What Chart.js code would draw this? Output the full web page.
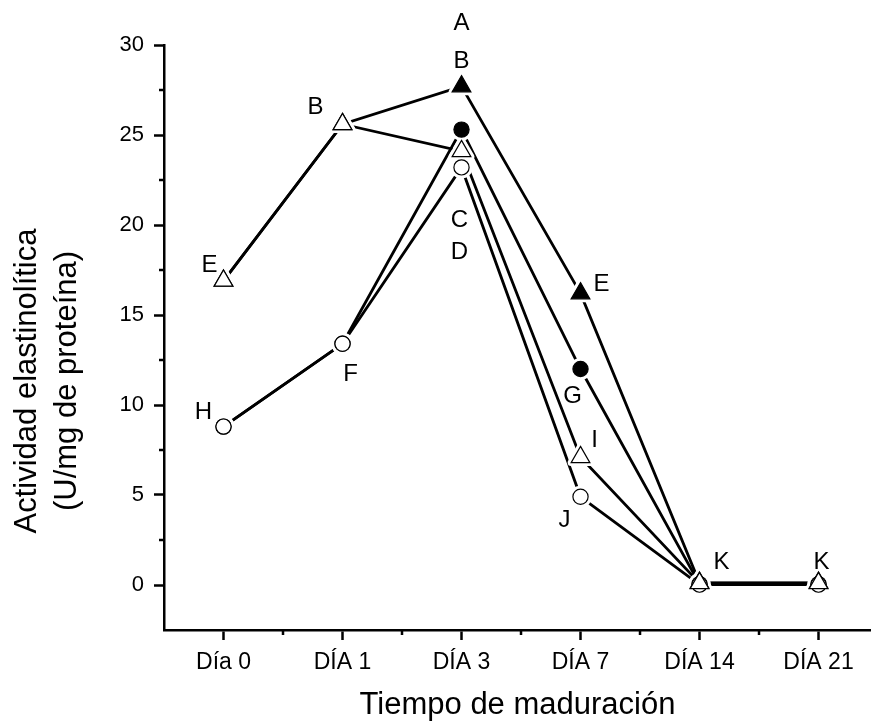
<!DOCTYPE html>
<html>
<head>
<meta charset="utf-8">
<script src="https://cdn.jsdelivr.net/npm/chart.js@4.4.1/dist/chart.umd.min.js"></script>
<style>
  html, body { margin: 0; padding: 0; background: #fff; overflow: hidden; }
  #wrap { width: 871px; height: 725px; }
</style>
</head>
<body>
<div id="wrap"><canvas id="chart" width="871" height="725"></canvas></div>
<script>
// Sampling days
const categories = ['Día 0', 'DÍA 1', 'DÍA 3', 'DÍA 7', 'DÍA 14', 'DÍA 21'];

// Elastinolytic activity (U/mg protein) per treatment
const filledTriangle = [16.9, 25.6, 27.7, 16.2, 0.12, 0.12];
const filledCircle   = [8.8, 13.4, 25.3, 12.0, 0.05, 0.05];
const openCircle     = [8.8, 13.4, 23.2, 4.9, 0.02, 0.02];
const openTriangle   = [16.9, 25.6, 24.1, 7.1, 0.1, 0.1];

// Labelled y ticks
const yTickLabels = [0, 5, 10, 15, 20, 25, 30];

// Axis titles
const xTitle = 'Tiempo de maduración';
const yTitleLines = ['Actividad elastinolítica', '(U/mg de proteína)'];

// Significance letters: dataset index, point index, pixel offset of the letter
const letters = [
  { text: 'A', ds: 0, i: 2, dx: 0,   dy: -65 },
  { text: 'B', ds: 0, i: 2, dx: 0,   dy: -27 },
  { text: 'B', ds: 3, i: 1, dx: -27, dy: -19 },
  { text: 'E', ds: 3, i: 0, dx: -14, dy: -17 },
  { text: 'H', ds: 2, i: 0, dx: -20, dy: -16 },
  { text: 'F', ds: 2, i: 1, dx: 8,   dy: 29 },
  { text: 'C', ds: 2, i: 2, dx: -2,  dy: 51 },
  { text: 'D', ds: 2, i: 2, dx: -2,  dy: 83 },
  { text: 'E', ds: 0, i: 3, dx: 21,  dy: -11 },
  { text: 'G', ds: 1, i: 3, dx: -8,  dy: 25 },
  { text: 'I', ds: 3, i: 3, dx: 14,  dy: -19 },
  { text: 'J', ds: 2, i: 3, dx: -16, dy: 22 },
  { text: 'K', ds: 3, i: 4, dx: 22,  dy: -23 },
  { text: 'K', ds: 3, i: 5, dx: 3,   dy: -23 }
];

const FONT = "'Liberation Sans', Arial, Helvetica, sans-serif";
Chart.defaults.font.family = FONT;
Chart.defaults.color = '#000';

const toPoints = arr => arr.map((v, i) => ({ x: i, y: v }));

function series(values, style, filled) {
  const tri = style === 'triangle';
  return {
    data: toPoints(values),
    borderColor: '#000',
    borderWidth: 2.8,
    tension: 0,
    fill: false,
    pointStyle: style,
    pointRadius: tri ? 10.8 : 7.6,
    pointBackgroundColor: filled ? '#000' : '#fff',
    pointBorderColor: '#000',
    pointBorderWidth: 1.2,
    pointHoverRadius: tri ? 10.8 : 7.6
  };
}

// White gap around every marker, then the markers on top (all series)
const markerGap = {
  id: 'markerGap',
  afterDatasetsDraw(chart) {
    const ctx = chart.ctx;
    const gap = 3.5;
    ctx.save();
    ctx.fillStyle = '#fff';
    ctx.strokeStyle = '#fff';
    ctx.lineJoin = 'round';
    chart.data.datasets.forEach((ds, di) => {
      chart.getDatasetMeta(di).data.forEach(pt => {
        const r = pt.options.radius;
        ctx.beginPath();
        if (pt.options.pointStyle === 'triangle') {
          for (let k = 0; k < 3; k++) {
            const a = k * 2 * Math.PI / 3;
            const px = pt.x + Math.sin(a) * r, py = pt.y - Math.cos(a) * r;
            if (k === 0) ctx.moveTo(px, py); else ctx.lineTo(px, py);
          }
          ctx.closePath();
          ctx.lineWidth = gap * 2;
          ctx.fill();
          ctx.stroke();
        } else {
          ctx.arc(pt.x, pt.y, r + gap, 0, Math.PI * 2);
          ctx.fill();
        }
      });
    });
    ctx.restore();
    chart.data.datasets.forEach((ds, di) => {
      chart.getDatasetMeta(di).data.forEach(pt => pt.draw(ctx, chart.chartArea));
    });
  }
};

// Short minor ticks between the major ones
const minorTicks = {
  id: 'minorTicks',
  afterDraw(chart) {
    const ctx = chart.ctx;
    const xs = chart.scales.x, ys = chart.scales.y;
    ctx.save();
    ctx.strokeStyle = '#000';
    ctx.lineWidth = 2.5;
    ctx.beginPath();
    for (let v = 0.5; v <= xs.max; v += 1) {
      const px = xs.getPixelForValue(v);
      ctx.moveTo(px, xs.top);
      ctx.lineTo(px, xs.top + 5);
    }
    for (let v = 2.5; v < ys.max; v += 5) {
      const py = ys.getPixelForValue(v);
      ctx.moveTo(ys.right, py);
      ctx.lineTo(ys.right - 5, py);
    }
    ctx.stroke();
    ctx.restore();
  }
};

// Two-line rotated y-axis title, centred a little below the axis middle
const yAxisTitle = {
  id: 'yAxisTitle',
  afterDraw(chart) {
    const ctx = chart.ctx;
    ctx.save();
    ctx.font = '31px ' + FONT;
    ctx.fillStyle = '#000';
    ctx.textAlign = 'center';
    ctx.textBaseline = 'middle';
    ctx.translate(0, 381);
    ctx.rotate(-Math.PI / 2);
    yTitleLines.forEach((line, k) => ctx.fillText(line, 0, 27 + k * 40));
    ctx.restore();
  }
};

// Letters next to the points
const letterLabels = {
  id: 'letterLabels',
  afterDraw(chart) {
    const ctx = chart.ctx;
    const size = 24;
    ctx.save();
    ctx.font = size + 'px ' + FONT;
    ctx.fillStyle = '#000';
    ctx.textAlign = 'center';
    ctx.textBaseline = 'alphabetic';
    letters.forEach(l => {
      const pt = chart.getDatasetMeta(l.ds).data[l.i];
      ctx.fillText(l.text, pt.x + l.dx, pt.y + l.dy + size * 0.358);
    });
    ctx.restore();
  }
};

new Chart(document.getElementById('chart'), {
  type: 'line',
  data: {
    datasets: [
      series(filledTriangle, 'triangle', true),
      series(filledCircle, 'circle', true),
      series(openCircle, 'circle', false),
      series(openTriangle, 'triangle', false)
    ]
  },
  options: {
    responsive: false,
    animation: false,
    devicePixelRatio: 1,
    layout: { autoPadding: false, padding: { top: 45, right: 0, bottom: 0, left: 0 } },
    plugins: { legend: { display: false }, tooltip: { enabled: false } },
    scales: {
      x: {
        type: 'linear',
        min: -0.5,
        max: 5.441,
        afterBuildTicks: s => { s.ticks = categories.map((c, i) => ({ value: i })); },
        afterFit: s => { s.height = 95; s.paddingLeft = 0; s.paddingRight = 0; },
        border: { display: true, color: '#000', width: 2.5 },
        grid: { drawOnChartArea: false, drawTicks: true, tickLength: 10, tickWidth: 2.5, tickColor: '#000' },
        ticks: {
          padding: 9,
          font: { size: 23 },
          color: '#000',
          maxRotation: 0,
          autoSkip: false,
          callback: v => categories[v] ?? ''
        },
        title: {
          display: true,
          text: xTitle,
          color: '#000',
          font: { size: 31, lineHeight: 1.2 },
          padding: { top: 0, bottom: 1 }
        }
      },
      y: {
        type: 'linear',
        min: -2.5,
        max: 30,
        afterBuildTicks: s => { s.ticks = yTickLabels.map(v => ({ value: v })); },
        afterFit: s => { s.width = 164; s.paddingTop = 0; s.paddingBottom = 0; },
        border: { display: true, color: '#000', width: 2.5 },
        grid: { drawOnChartArea: false, drawTicks: true, tickLength: 10, tickWidth: 2.5, tickColor: '#000' },
        ticks: {
          padding: 10,
          font: { size: 22 },
          color: '#000',
          callback: v => String(v)
        },
        title: { display: false }
      }
    }
  },
  plugins: [markerGap, minorTicks, yAxisTitle, letterLabels]
});
</script>
</body>
</html>
